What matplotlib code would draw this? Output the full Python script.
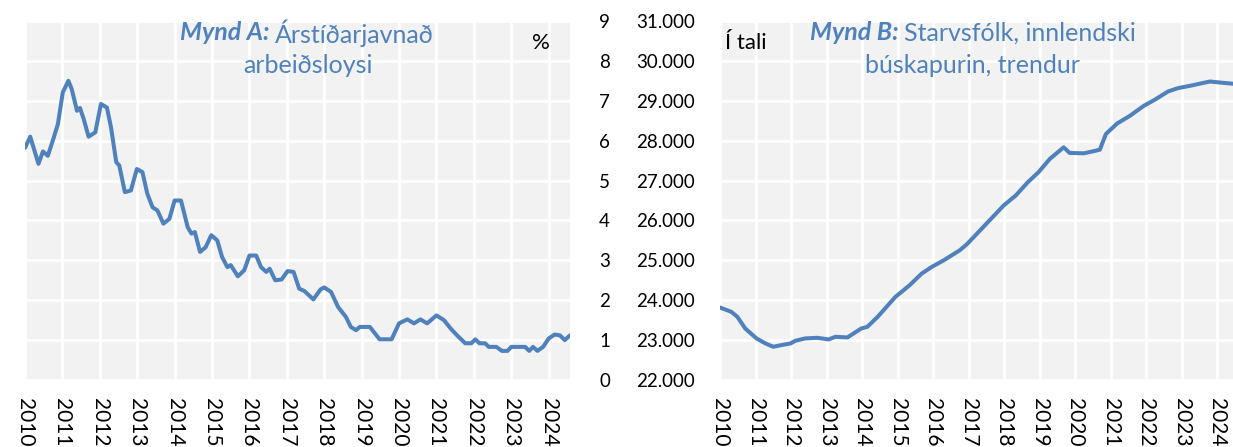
import matplotlib
matplotlib.use("Agg")
import matplotlib.pyplot as plt

# ---- Data ----
years_a = [2010.0, 2010.14, 2010.36, 2010.48, 2010.61, 2010.77, 2010.88, 2011.01, 2011.16, 2011.25,
           2011.39, 2011.47, 2011.57, 2011.70, 2011.88, 2012.03, 2012.19, 2012.30, 2012.44, 2012.52,
           2012.67, 2012.83, 2012.99, 2013.14, 2013.27, 2013.41, 2013.54, 2013.70, 2013.86, 2014.0,
           2014.17, 2014.35, 2014.45, 2014.54, 2014.68, 2014.83, 2014.98, 2015.14, 2015.27, 2015.41,
           2015.50, 2015.69, 2015.86, 2016.0, 2016.18, 2016.31, 2016.45, 2016.54, 2016.69, 2016.86,
           2017.02, 2017.18, 2017.33, 2017.47, 2017.71, 2017.90, 2018.0, 2018.18, 2018.37, 2018.58,
           2018.71, 2018.85, 2018.95, 2019.22, 2019.48, 2019.80, 2020.0, 2020.22, 2020.40, 2020.57,
           2020.75, 2021.0, 2021.20, 2021.38, 2021.55, 2021.77, 2021.93, 2022.04, 2022.15, 2022.30,
           2022.40, 2022.60, 2022.75, 2022.90, 2023.0, 2023.37, 2023.48, 2023.58, 2023.70, 2023.85,
           2024.0, 2024.16, 2024.30, 2024.43, 2024.57]
unemployment = [5.82, 6.10, 5.42, 5.73, 5.62, 6.08, 6.42, 7.21, 7.50, 7.29,
                6.75, 6.82, 6.54, 6.10, 6.21, 6.92, 6.83, 6.33, 5.46, 5.38,
                4.71, 4.75, 5.29, 5.21, 4.67, 4.33, 4.25, 3.92, 4.04, 4.50,
                4.50, 3.83, 3.67, 3.71, 3.21, 3.33, 3.63, 3.50, 3.08, 2.83,
                2.88, 2.60, 2.75, 3.12, 3.12, 2.83, 2.71, 2.79, 2.50, 2.52,
                2.73, 2.71, 2.29, 2.23, 2.02, 2.27, 2.32, 2.21, 1.83, 1.58,
                1.33, 1.25, 1.33, 1.33, 1.02, 1.02, 1.42, 1.52, 1.42, 1.52,
                1.42, 1.62, 1.50, 1.29, 1.12, 0.92, 0.92, 1.02, 0.92, 0.92,
                0.83, 0.83, 0.73, 0.73, 0.83, 0.83, 0.73, 0.83, 0.73, 0.83,
                1.04, 1.14, 1.12, 1.00, 1.12]

years_b = [2010.0, 2010.32, 2010.49, 2010.71, 2011.03, 2011.28, 2011.50, 2011.73, 2011.99, 2012.12,
           2012.40, 2012.74, 2013.06, 2013.25, 2013.59, 2013.98, 2014.15, 2014.44, 2014.94, 2015.34,
           2015.68, 2015.96, 2016.30, 2016.75, 2016.95, 2017.37, 2017.99, 2018.33, 2018.67, 2018.97,
           2019.29, 2019.68, 2019.85, 2020.25, 2020.59, 2020.70, 2020.87, 2021.19, 2021.55, 2021.94,
           2022.23, 2022.62, 2022.90, 2023.24, 2023.58, 2023.80, 2024.08, 2024.57]
employees = [23817, 23708, 23583, 23292, 23042, 22917, 22833, 22875, 22917, 22983,
             23042, 23058, 23017, 23083, 23067, 23292, 23333, 23583, 24083, 24375,
             24667, 24833, 25000, 25250, 25400, 25792, 26375, 26625, 26958, 27208,
             27542, 27833, 27692, 27683, 27750, 27775, 28167, 28433, 28625, 28875,
             29017, 29233, 29317, 29375, 29442, 29483, 29458, 29417]

year_ticks = list(range(2010, 2025))
yticks_a = list(range(0, 10))
yticks_b = list(range(22000, 31001, 1000))
ytick_labels_b = [f"{v:,}".replace(",", ".") for v in yticks_b]

# ---- Style ----
W, H = 1233, 447
LINE = "#4F81BD"
BG = "#F2F2F2"
plt.rcParams['font.family'] = ['Lato', 'DejaVu Sans']
FS_Y = 13.5
FS_X = 15
FS_T = 18
FS_U = 16

fig = plt.figure(figsize=(W / 100, H / 100), dpi=100)

def px_axes(x0, x1, y0, y1):
    return fig.add_axes([x0 / W, 1 - y1 / H, (x1 - x0) / W, (y1 - y0) / H])

def style(ax):
    ax.set_facecolor(BG)
    for s in ax.spines.values():
        s.set_visible(False)
    ax.grid(True, color="white", linewidth=2)
    ax.set_axisbelow(True)
    ax.set_xticks(year_ticks)
    ax.set_xticklabels([str(y) for y in year_ticks], rotation=-90, fontsize=FS_X,
                       va="top", ha="center")
    ax.tick_params(axis="both", length=0)
    ax.tick_params(axis="x", pad=13)

def fx(ax_x0, ax_x1, x):
    return (x - ax_x0) / (ax_x1 - ax_x0)

def fy(y):
    return (380 - y) / (380 - 21)

# Panel A
axA = px_axes(25, 570, 21, 380)
style(axA)
axA.plot(years_a, unemployment, color=LINE, linewidth=2.9, solid_capstyle="round",
         solid_joinstyle="round")
axA.set_xlim(2010, 2024.57)
axA.set_ylim(0, 9)
axA.set_yticks(yticks_a)
axA.yaxis.tick_right()
axA.tick_params(axis="y", labelsize=FS_Y, pad=21, labelright=True, labelleft=False)

axA.text(fx(25, 570, 270), fy(33), "Mynd A:", transform=axA.transAxes, ha="right", va="center",
         fontsize=FS_T, color=LINE, fontweight="bold", fontstyle="italic")
axA.text(fx(25, 570, 275), fy(33), "Árstíðarjavnað", transform=axA.transAxes, ha="left",
         va="center", fontsize=FS_T, color=LINE)
axA.text(fx(25, 570, 308), fy(66), "arbeiðsloysi", transform=axA.transAxes, ha="center",
         va="center", fontsize=FS_T, color=LINE)
axA.text(fx(25, 570, 541), fy(43), "%", transform=axA.transAxes, ha="center", va="center",
         fontsize=FS_U, color="black")

# Panel B
axB = px_axes(720, 1233, 21, 380)
style(axB)
axB.plot(years_b, employees, color=LINE, linewidth=2.9, solid_capstyle="round",
         solid_joinstyle="round")
axB.set_xlim(2010, 2024.45)
axB.set_ylim(22000, 31000)
axB.set_yticks(yticks_b)
axB.set_yticklabels(ytick_labels_b)
axB.tick_params(axis="y", labelsize=FS_Y, pad=18)

axB.text(fx(720, 1233, 725), fy(43), "Í tali", transform=axB.transAxes, ha="left", va="center",
         fontsize=FS_U, color="black")
axB.text(fx(720, 1233, 899), fy(33), "Mynd B:", transform=axB.transAxes, ha="right", va="center",
         fontsize=FS_T, color=LINE, fontweight="bold", fontstyle="italic")
axB.text(fx(720, 1233, 904), fy(33), "Starvsfólk, innlendski", transform=axB.transAxes,
         ha="left", va="center", fontsize=FS_T, color=LINE)
axB.text(fx(720, 1233, 972), fy(66), "búskapurin, trendur", transform=axB.transAxes,
         ha="center", va="center", fontsize=FS_T, color=LINE)

fig.savefig("out.png", dpi=100, facecolor="white")
